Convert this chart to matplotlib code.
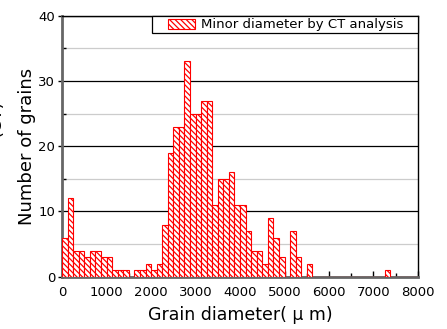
import numpy as np
import matplotlib
matplotlib.use("Agg")
import matplotlib.pyplot as plt
from matplotlib.patches import Rectangle
from matplotlib.ticker import MultipleLocator

# histogram of minor diameter, bin width 125 um
bin_width = 125
counts = [6, 12, 4, 4, 3, 4, 4, 3, 3, 1, 1, 1, 0, 1, 1, 2, 1, 2, 8, 19,
          23, 23, 33, 25, 25, 27, 27, 11, 15, 15, 16, 11, 11, 7, 4, 4, 2, 9, 6, 3,
          0, 7, 3, 0, 2, 0, 0, 0, 0, 0, 0, 0, 0, 0, 0, 0, 0, 0, 1, 0,
          0, 0, 0, 0]
series_label = "Minor diameter by CT analysis"
x_ticks = [0, 1000, 2000, 3000, 4000, 5000, 6000, 7000, 8000]
y_ticks = [0, 10, 20, 30, 40]


def main():
    plt.rcParams['hatch.linewidth'] = 0.9
    fig = plt.figure(figsize=(4.47, 3.29), dpi=100)
    ax = fig.add_axes([0.139, 0.159, 0.796, 0.793])

    left = np.arange(len(counts)) * bin_width
    ax.bar(left, counts, width=bin_width, align='edge', facecolor='white',
           edgecolor='#ff0000', hatch='\\' * 6, linewidth=0.8,
           label=series_label, zorder=3)

    ax.set_xlim(0, 8000)
    ax.set_ylim(0, 40)
    ax.set_xticks(x_ticks)
    ax.set_yticks(y_ticks)
    ax.xaxis.set_minor_locator(MultipleLocator(500))
    ax.yaxis.set_minor_locator(MultipleLocator(5))

    ax.grid(which='major', axis='y', color='black', linewidth=0.9, zorder=1)
    ax.grid(which='minor', axis='y', color='#cccccc', linewidth=0.9, zorder=1)
    ax.set_axisbelow(True)

    ax.tick_params(axis='x', which='major', direction='in', length=4, width=1,
                   labelsize=9.5, pad=7)
    ax.tick_params(axis='x', which='minor', direction='in', length=3, width=1)
    ax.tick_params(axis='y', which='major', direction='out', length=3, width=1,
                   labelsize=9.5, pad=2)
    ax.tick_params(axis='y', which='minor', direction='in', length=3, width=1)

    for side in ['left', 'bottom']:
        ax.spines[side].set_color('#666666')
        ax.spines[side].set_linewidth(2)
    for side in ['top', 'right']:
        ax.spines[side].set_color('black')
        ax.spines[side].set_linewidth(1)

    ax.set_xlabel("Grain diameter( μ m)", fontsize=12.5, labelpad=5)
    ax.set_ylabel("Number of grains", fontsize=13, labelpad=2)

    # clipped second line of y label at the left edge
    fig.text(5 / 447, 0.64, "(CT)", rotation=90, fontsize=13,
             ha='right', va='center')

    # legend frame (wider than its content, as in the original)
    frame = Rectangle((0.253, 0.9326), 0.747, 0.0674, transform=ax.transAxes,
                      facecolor='white', edgecolor='black', linewidth=0.9,
                      zorder=4, clip_on=False)
    ax.add_patch(frame)
    leg = ax.legend(loc='center right', bbox_to_anchor=(0.958, 0.966),
                    borderaxespad=0, borderpad=0, frameon=False,
                    fontsize=9.5, handlelength=2.1, handleheight=0.8,
                    handletextpad=0.4)
    leg.set_zorder(5)

    fig.savefig("out.png", dpi=100)


if __name__ == '__main__':
    main()
